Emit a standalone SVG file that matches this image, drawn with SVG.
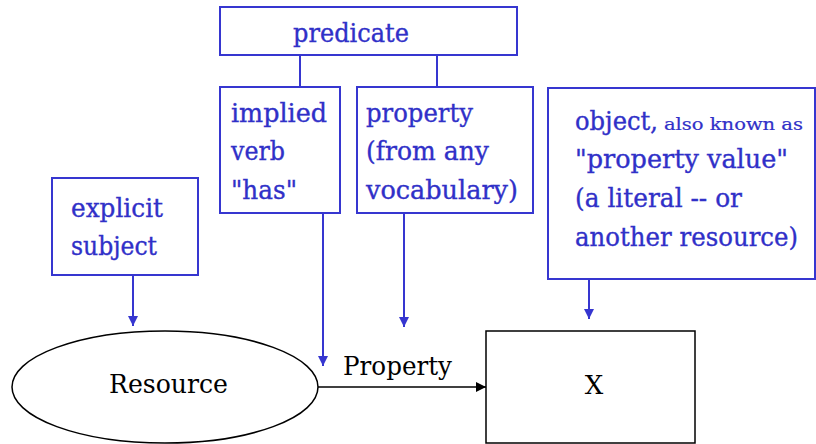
<svg xmlns="http://www.w3.org/2000/svg" width="816" height="444" viewBox="0 0 816 444">
  <style>
    .box { fill: #ffffff; stroke: #3636d0; stroke-width: 2; }
    .link { fill: none; stroke: #3636d0; stroke-width: 2; }
    .lbl { font-family: 'DejaVu Serif', 'Liberation Serif', serif; font-size: 25.5px; fill: #3030c8; stroke: #3030c8; stroke-width: 0.35; }
    .small { font-size: 16px; stroke-width: 0.2; }
    .shape { fill: #ffffff; stroke: #000000; stroke-width: 1.5; }
    .dark { font-family: 'DejaVu Serif', 'Liberation Serif', serif; font-size: 26px; fill: #000000; }
  </style>
  <defs>
    <marker id="bluehead" viewBox="0 0 10 10" refX="10" refY="5" markerWidth="10" markerHeight="10" markerUnits="userSpaceOnUse" orient="auto">
      <path d="M0,0 L10,5 L0,10 z" fill="#3636d0"/>
    </marker>
    <marker id="blackhead" viewBox="0 0 10 10" refX="10" refY="5" markerWidth="10" markerHeight="10" markerUnits="userSpaceOnUse" orient="auto">
      <path d="M0,0 L10,5 L0,10 z" fill="#000000"/>
    </marker>
  </defs>

  <!-- connectors -->
  <g id="connectors">
    <line class="link" x1="300" y1="55" x2="300" y2="87"/>
    <line class="link" x1="437" y1="55" x2="437" y2="87"/>
    <line class="link" x1="133" y1="276" x2="133" y2="326" marker-end="url(#bluehead)"/>
    <line class="link" x1="323" y1="213" x2="323" y2="366" marker-end="url(#bluehead)"/>
    <line class="link" x1="404" y1="213" x2="404" y2="327" marker-end="url(#bluehead)"/>
    <line class="link" x1="589" y1="279" x2="589" y2="319" marker-end="url(#bluehead)"/>
    <line x1="318" y1="387" x2="486" y2="387" stroke="#000000" stroke-width="1.5" marker-end="url(#blackhead)"/>
  </g>

  <g id="predicate">
    <rect class="box" x="220" y="7" width="297" height="48"/>
    <text class="lbl" x="293" y="42" textLength="116" lengthAdjust="spacingAndGlyphs">predicate</text>
  </g>

  <g id="implied-verb">
    <rect class="box" x="220" y="87" width="120" height="126"/>
    <text class="lbl" x="231" y="122" textLength="96" lengthAdjust="spacingAndGlyphs">implied</text>
    <text class="lbl" x="231" y="160" textLength="54" lengthAdjust="spacingAndGlyphs">verb</text>
    <text class="lbl" x="231" y="199" textLength="66" lengthAdjust="spacingAndGlyphs">"has"</text>
  </g>

  <g id="property-vocab">
    <rect class="box" x="357" y="87" width="176" height="126"/>
    <text class="lbl" x="366" y="122" textLength="107" lengthAdjust="spacingAndGlyphs">property</text>
    <text class="lbl" x="366" y="160" textLength="123" lengthAdjust="spacingAndGlyphs">(from any</text>
    <text class="lbl" x="366" y="199" textLength="152" lengthAdjust="spacingAndGlyphs">vocabulary)</text>
  </g>

  <g id="explicit-subject">
    <rect class="box" x="52" y="178" width="146" height="97"/>
    <text class="lbl" x="71" y="217" textLength="92" lengthAdjust="spacingAndGlyphs">explicit</text>
    <text class="lbl" x="71" y="255" textLength="86" lengthAdjust="spacingAndGlyphs">subject</text>
  </g>

  <g id="object">
    <rect class="box" x="548" y="88" width="267" height="191"/>
    <text class="lbl" x="575" y="130" textLength="83" lengthAdjust="spacingAndGlyphs">object,</text>
    <text class="lbl small" x="664" y="130" textLength="139" lengthAdjust="spacingAndGlyphs">also known as</text>
    <text class="lbl" x="575" y="168" textLength="213" lengthAdjust="spacingAndGlyphs">"property value"</text>
    <text class="lbl" x="575" y="207" textLength="167" lengthAdjust="spacingAndGlyphs">(a literal -- or</text>
    <text class="lbl" x="575" y="246" textLength="223" lengthAdjust="spacingAndGlyphs">another resource)</text>
  </g>

  <g id="resource">
    <ellipse class="shape" cx="165" cy="387" rx="153" ry="56"/>
    <text class="dark" x="109" y="393" textLength="119" lengthAdjust="spacingAndGlyphs">Resource</text>
  </g>

  <g id="property-label">
    <text class="dark" x="343" y="375" textLength="109" lengthAdjust="spacingAndGlyphs">Property</text>
  </g>

  <g id="x-value">
    <rect class="shape" x="486" y="331" width="209" height="112"/>
    <text class="dark" x="594" y="394" text-anchor="middle">X</text>
  </g>
</svg>
